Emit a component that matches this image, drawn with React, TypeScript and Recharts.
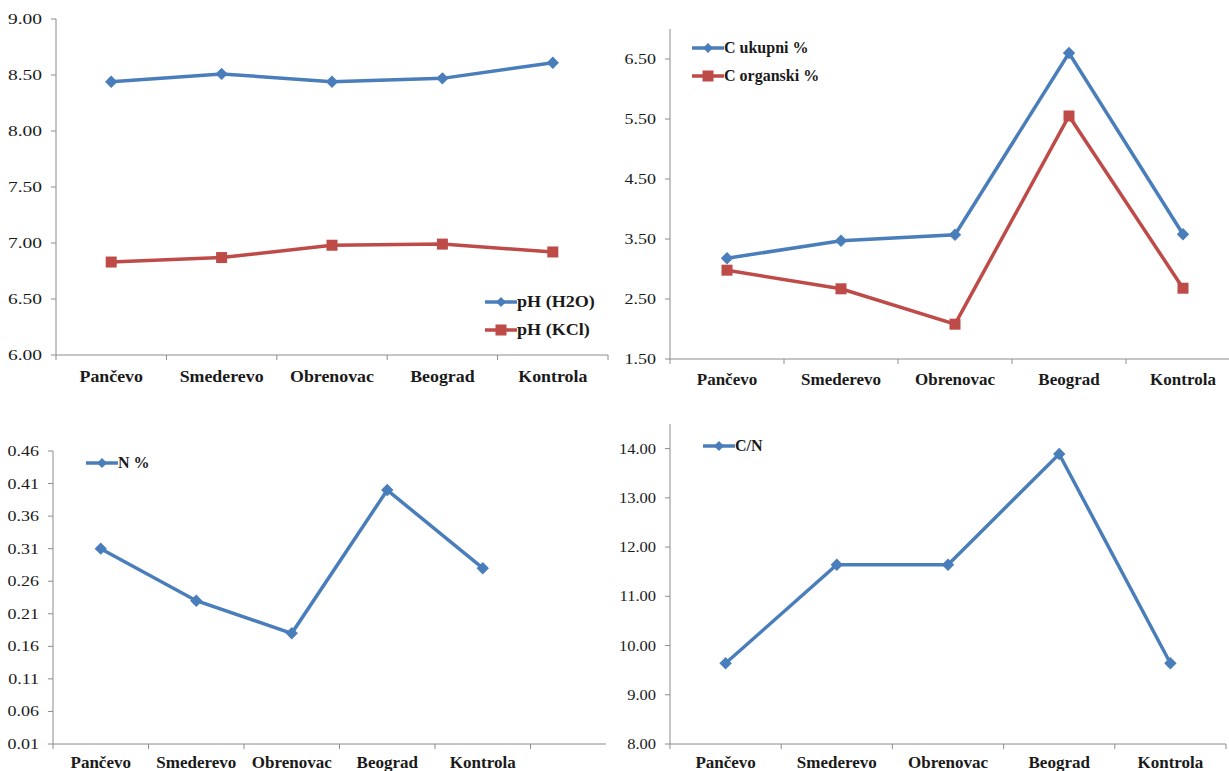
import React from "react";
import { LineChart, Line, XAxis, YAxis, Legend } from "recharts";

const categories = ["Pančevo", "Smederevo", "Obrenovac", "Beograd", "Kontrola"];

const phH2O = [8.44, 8.51, 8.44, 8.47, 8.61];
const phKCl = [6.83, 6.87, 6.98, 6.99, 6.92];
const cUkupni = [3.18, 3.47, 3.57, 6.6, 3.58];
const cOrganski = [2.98, 2.67, 2.08, 5.55, 2.68];
const nPercent = [0.31, 0.23, 0.18, 0.4, 0.28];
const cnRatio = [9.64, 11.64, 11.64, 13.89, 9.64];

const phTicks = [6.0, 6.5, 7.0, 7.5, 8.0, 8.5, 9.0];
const cTicks = [1.5, 2.5, 3.5, 4.5, 5.5, 6.5];
const nTicks = [0.01, 0.06, 0.11, 0.16, 0.21, 0.26, 0.31, 0.36, 0.41, 0.46];
const cnTicks = [8, 9, 10, 11, 12, 13, 14];

const BLUE = "#4A7EBB";
const RED = "#BE4B48";
const AXIS = "#8C8C8C";
const TEXT = "#1A1A1A";
const SERIF = "'Liberation Serif', 'Times New Roman', serif";

const phData = categories.map((name, i) => ({ name, h2o: phH2O[i], kcl: phKCl[i] }));
const cData = categories.map((name, i) => ({ name, uk: cUkupni[i], org: cOrganski[i] }));
// the N chart has an extra empty slot at the end of the axis
const nData = [...categories, ""].map((name, i) => ({ name, n: nPercent[i] }));
const cnData = categories.map((name, i) => ({ name, cn: cnRatio[i] }));

function diamondPath(cx: number, cy: number, r: number) {
  return `M${cx},${cy - r}L${cx + r},${cy}L${cx},${cy + r}L${cx - r},${cy}Z`;
}

const diamondDot = (color: string) => (p: any) => {
  if (p.cx == null || p.cy == null || p.value == null) return <g key={p.index} />;
  return <path key={p.index} d={diamondPath(p.cx, p.cy, 6.2)} fill={color} />;
};

const squareDot = (color: string) => (p: any) => {
  if (p.cx == null || p.cy == null || p.value == null) return <g key={p.index} />;
  return <rect key={p.index} x={p.cx - 5.5} y={p.cy - 5.5} width={11} height={11} fill={color} />;
};

const yTick = (sx: number) => (p: any) => (
  <text
    transform={`translate(${p.x},${p.y}) scale(${sx},1)`}
    textAnchor="end"
    dy={5}
    fontFamily={SERIF}
    fontSize={15}
    fill={TEXT}
  >
    {Number(p.payload.value).toFixed(2)}
  </text>
);

// Excel-style: tick marks sit between categories, labels in the middle
const xTick = (slot: number, count: number, dy: number, sx: number) => (p: any) => {
  const left = p.x - slot / 2;
  const last = p.index === count - 1;
  return (
    <g>
      <line x1={left} x2={left} y1={p.y} y2={p.y + 5} stroke={AXIS} />
      {last && <line x1={left + slot} x2={left + slot} y1={p.y} y2={p.y + 5} stroke={AXIS} />}
      <text
        transform={`translate(${p.x},${p.y + dy}) scale(${sx},1)`}
        textAnchor="middle"
        fontFamily={SERIF}
        fontWeight="bold"
        fontSize={17}
        fill={TEXT}
      >
        {p.payload.value}
      </text>
    </g>
  );
};

const legendContent = (order: string[], sx: number) => (props: any) => {
  const items = [...(props.payload || [])].sort(
    (a: any, b: any) => order.indexOf(a.value) - order.indexOf(b.value)
  );
  return (
    <div style={{ display: "flex", flexDirection: "column" }}>
      {items.map((e: any) => (
        <div key={e.value} style={{ height: 28, display: "flex", alignItems: "center" }}>
          <svg width={32} height={14} style={{ display: "block" }}>
            <line x1={0} y1={7} x2={32} y2={7} stroke={e.color} strokeWidth={3.5} />
            {e.type === "square" ? (
              <rect x={10.5} y={1.5} width={11} height={11} fill={e.color} />
            ) : (
              <path d={diamondPath(16, 7, 5)} fill={e.color} />
            )}
          </svg>
          <span
            style={{
              fontFamily: SERIF,
              fontWeight: "bold",
              fontSize: 16,
              color: TEXT,
              whiteSpace: "nowrap",
              display: "inline-block",
              transform: `scaleX(${sx})`,
              transformOrigin: "left center",
            }}
          >
            {e.value}
          </span>
        </div>
      ))}
    </div>
  );
};

const yAxisCommon = {
  type: "number" as const,
  axisLine: { stroke: AXIS },
  tickLine: { stroke: AXIS },
  tickSize: 5,
  tickMargin: 9,
  interval: 0 as const,
};

const xAxisCommon = {
  dataKey: "name",
  axisLine: { stroke: AXIS },
  tickLine: false,
  tickSize: 0,
  tickMargin: 0,
  interval: 0 as const,
  height: 30,
};

export default function App() {
  return (
    <div
      style={{
        position: "absolute",
        left: 0,
        top: 0,
        width: 1229,
        height: 771,
        overflow: "hidden",
        background: "#fff",
      }}
    >
      {/* pH */}
      <div style={{ position: "absolute", left: 0, top: 0, width: 620, height: 400 }}>
        <LineChart width={620} height={400} data={phData} margin={{ top: 19, right: 12, bottom: 15, left: 0 }}>
          <XAxis {...xAxisCommon} padding={{ left: 55.2, right: 55.2 }} tick={xTick(110.4, 5, 27, 1.05)} />
          <YAxis {...yAxisCommon} width={56} domain={[6, 9]} ticks={phTicks} tick={yTick(1.3)} />
          <Legend
            layout="vertical"
            align="center"
            verticalAlign="middle"
            itemSorter={null}
            wrapperStyle={{ left: 485, top: 288, width: 130, height: 56 }}
            content={legendContent(["pH (H2O)", "pH (KCl)"], 1.13)}
          />
          <Line dataKey="h2o" name="pH (H2O)" legendType="diamond" stroke={BLUE} strokeWidth={3.5}
            dot={diamondDot(BLUE)} activeDot={false} isAnimationActive={false} />
          <Line dataKey="kcl" name="pH (KCl)" legendType="square" stroke={RED} strokeWidth={3.5}
            dot={squareDot(RED)} activeDot={false} isAnimationActive={false} />
        </LineChart>
      </div>

      {/* C */}
      <div style={{ position: "absolute", left: 610, top: 0, width: 630, height: 400 }}>
        <LineChart width={630} height={400} data={cData} margin={{ top: 29, right: 0, bottom: 11, left: 0 }}>
          <XAxis {...xAxisCommon} padding={{ left: 57, right: 57 }} tick={xTick(114, 5, 26, 1)} />
          <YAxis {...yAxisCommon} width={60} domain={[1.5, 7]} ticks={cTicks} tick={yTick(1.2)} />
          <Legend
            layout="vertical"
            align="center"
            verticalAlign="middle"
            itemSorter={null}
            wrapperStyle={{ left: 82, top: 34, width: 160, height: 56 }}
            content={legendContent(["C ukupni %", "C organski %"], 1)}
          />
          <Line dataKey="uk" name="C ukupni %" legendType="diamond" stroke={BLUE} strokeWidth={3.5}
            dot={diamondDot(BLUE)} activeDot={false} isAnimationActive={false} />
          <Line dataKey="org" name="C organski %" legendType="square" stroke={RED} strokeWidth={3.5}
            dot={squareDot(RED)} activeDot={false} isAnimationActive={false} />
        </LineChart>
      </div>

      {/* N */}
      <div style={{ position: "absolute", left: 0, top: 400, width: 606, height: 371, overflow: "hidden" }}>
        <LineChart width={630} height={400} data={nData} margin={{ top: 51, right: 4, bottom: 26, left: 0 }}>
          <XAxis {...xAxisCommon} padding={{ left: 47.75, right: 47.75 }} tick={xTick(95.5, 6, 24, 1)} />
          <YAxis {...yAxisCommon} width={53} domain={[0.01, 0.46]} ticks={nTicks} tick={yTick(1.2)} />
          <Legend
            layout="vertical"
            align="center"
            verticalAlign="middle"
            itemSorter={null}
            wrapperStyle={{ left: 86, top: 49, width: 100, height: 28 }}
            content={legendContent(["N %"], 1)}
          />
          <Line dataKey="n" name="N %" legendType="diamond" stroke={BLUE} strokeWidth={3.5}
            dot={diamondDot(BLUE)} activeDot={false} isAnimationActive={false} />
        </LineChart>
      </div>

      {/* C/N */}
      <div style={{ position: "absolute", left: 610, top: 400, width: 619, height: 371, overflow: "hidden" }}>
        <LineChart width={619} height={400} data={cnData} margin={{ top: 24, right: 3, bottom: 26, left: 0 }}>
          <XAxis {...xAxisCommon} padding={{ left: 55.6, right: 55.6 }} tick={xTick(111.2, 5, 24, 1)} />
          <YAxis {...yAxisCommon} width={60} domain={[8, 14.5]} ticks={cnTicks} tick={yTick(1.1)} />
          <Legend
            layout="vertical"
            align="center"
            verticalAlign="middle"
            itemSorter={null}
            wrapperStyle={{ left: 93, top: 32, width: 100, height: 28 }}
            content={legendContent(["C/N"], 1)}
          />
          <Line dataKey="cn" name="C/N" legendType="diamond" stroke={BLUE} strokeWidth={3.5}
            dot={diamondDot(BLUE)} activeDot={false} isAnimationActive={false} />
        </LineChart>
      </div>
    </div>
  );
}
